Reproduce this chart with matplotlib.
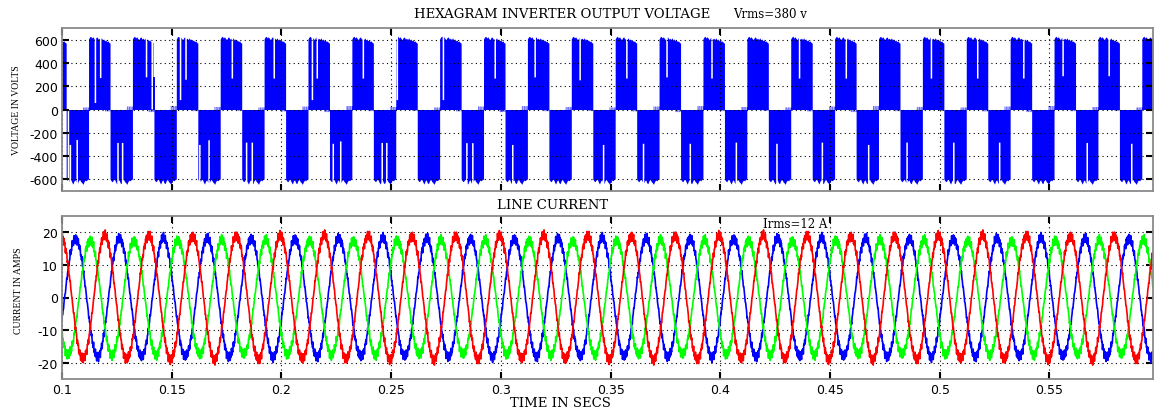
import numpy as np
import matplotlib
matplotlib.use("Agg")
import matplotlib.pyplot as plt

# ---------------- data ----------------
x_range = [0.1, 0.5972]
x_ticks = [0.1, 0.15, 0.2, 0.25, 0.3, 0.35, 0.4, 0.45, 0.5, 0.55]
x_tick_labels = ["0.1", "0.15", "0.2", "0.25", "0.3", "0.35", "0.4", "0.45", "0.5", "0.55"]
v_ticks = [600, 400, 200, 0, -200, -400, -600]
i_ticks = [20, 10, 0, -10, -20]

# voltage: start times of the positive half-cycle blocks (s)
pos_block_starts = [0.0921, 0.1121, 0.1321, 0.1521, 0.1721, 0.1921, 0.2121, 0.2321,
                    0.2521, 0.2721, 0.2921, 0.3121, 0.3321, 0.3521, 0.3721, 0.3921,
                    0.4121, 0.4321, 0.4521, 0.4721, 0.4921, 0.5121, 0.5321, 0.5521,
                    0.5721, 0.5921]
pos_block_width = 0.0098
cycle_length = 0.02
# ragged envelope of a positive / negative block (fraction of block -> volts)
env_frac = list(np.linspace(0, 1, 21))
env_pos = [606, 623, 629, 614, 625, 609, 600, 619, 623, 604, 613, 600,
           616, 597, 606, 590, 598, 583, 589, 575, 570]
env_neg = [-598, -613, -621, -604, -600, -623, -641, -614, -604, -630, -637,
           -611, -600, -619, -629, -643, -619, -606, -613, -600, -598]
# small opposite-polarity ripple near the end of each block (V)
end_ripple = [8, 22, 12, 30, 18, 34, 10, 26]
# notches (time, level) where the switching does not reach the envelope
notch_times = [0.1027, 0.1036, 0.1067, 0.1150, 0.1174, 0.1253, 0.1274, 0.1383, 0.1409,
               0.1418, 0.1538, 0.1563, 0.1626, 0.1668, 0.1774, 0.1839, 0.1865, 0.1965,
               0.2139, 0.2161, 0.2234, 0.2268, 0.2371, 0.2457, 0.2478, 0.2526, 0.2736,
               0.2843, 0.2870, 0.2972, 0.3052, 0.3154, 0.3359, 0.3466, 0.3572, 0.3648,
               0.3755, 0.3861, 0.3960, 0.4071, 0.4256, 0.4359, 0.4463, 0.4572, 0.4674,
               0.4849, 0.4960, 0.5062, 0.5171, 0.5271, 0.5381, 0.5560, 0.5670, 0.5770,
               0.5873]
notch_levels = [-5, -300, -257, 60, 275, -283, -283, 281, 5,
                283, 85, 260, -300, -260, 270, -280, -280, 270,
                85, 270, -290, -270, 270, -283, -283, 85, 85,
                -285, -285, 270, -300, 280, 255, -300, 270, -290,
                280, -290, 270, -280, -290, 270, -280, 270, -300,
                -280, 270, -280, 270, -280, 270, 290, -283, 290,
                -290]
notch_width = 0.0007

# currents: colour, first positive peak time (s), peak amplitude (A)
phase_colors = ["#0000ff", "#00ff00", "#ff0000"]
phase_peak_time = [0.1062, 0.1128, 0.1195]
phase_amplitude = [18.2, 17.6, 19.0]
ripple_amp = 1.5
ripple_freqs = [2450.0, 1130.0]

# ---------------- build waveforms ----------------
t = np.arange(x_range[0], x_range[1], 4e-6)
hi = np.zeros_like(t)
lo = np.zeros_like(t)
nrip = len(end_ripple)
for k, s in enumerate(pos_block_starts):
    m = (t >= s) & (t < s + pos_block_width)
    hi[m] = np.interp((t[m] - s) / pos_block_width, env_frac, env_pos)
    m2 = (t >= s + 0.72 * pos_block_width) & (t < s + pos_block_width)
    lo[m2] = -end_ripple[(2 * k) % nrip]
    ns = s + pos_block_width
    nw = cycle_length - pos_block_width
    m = (t >= ns) & (t < ns + nw)
    lo[m] = np.interp((t[m] - ns) / nw, env_frac, env_neg)
    m2 = (t >= ns + 0.72 * nw) & (t < ns + nw)
    hi[m2] = end_ripple[(2 * k + 1) % nrip]
# make the near-zero ripple spiky rather than a flat ledge
spike = (np.sin(2 * np.pi * 3100 * t) > 0.2)
hi = np.where((hi > 0) & (hi < 100) & ~spike, 0, hi)
lo = np.where((lo < 0) & (lo > -100) & ~spike, 0, lo)
for tn, lv in zip(notch_times, notch_levels):
    m = np.abs(t - tn) < notch_width / 2
    if lv > 0:
        hi[m] = lv
    else:
        lo[m] = lv

ti = np.arange(x_range[0], x_range[1], 2e-5)
tri = sum((2 / np.pi) * np.arcsin(np.sin(2 * np.pi * f * ti)) for f in ripple_freqs) / 1.6

# ---------------- figure ----------------
W, H = 1154, 414
fig = plt.figure(figsize=(W / 100, H / 100), dpi=100)
ax1 = fig.add_axes([62 / W, 1 - 192 / H, 1091 / W, 163 / H])
ax2 = fig.add_axes([62 / W, 1 - 380 / H, 1091 / W, 163 / H])

ax1.fill_between(t, lo, hi, color="#0000ff", linewidth=0)

for col, tp, amp in zip(phase_colors, phase_peak_time, phase_amplitude):
    c = np.cos(2 * np.pi * 50.0 * (ti - tp))
    y = amp * c + ripple_amp * tri * (0.3 + 0.7 * np.abs(c))
    ax2.plot(ti, y, color=col, linewidth=1.2)

for ax, yt, yl in [(ax1, v_ticks, (-700, 700)), (ax2, i_ticks, (-25, 25))]:
    ax.set_xlim(*x_range)
    ax.set_ylim(*yl)
    ax.set_yticks(yt)
    ax.set_yticklabels([str(v) for v in yt])
    ax.set_xticks(x_ticks)
    ax.grid(True, color="k", linestyle=(0, (1, 3)), linewidth=0.8)
    ax.tick_params(direction="in", length=5, width=1.5, color="k",
                   top=True, right=True, labelsize=9, pad=3)
    for sp in ax.spines.values():
        sp.set_color("#8a8a8a")
        sp.set_linewidth(1.3)

ax1.set_xticklabels([])
ax2.set_xticklabels(x_tick_labels)

serif = "DejaVu Serif"
fig.text(562 / W, 1 - 14 / H, "HEXAGRAM INVERTER OUTPUT VOLTAGE", ha="center", va="center",
         family=serif, size=9.5)
fig.text(733 / W, 1 - 14 / H, "Vrms=380 v", ha="left", va="center", family=serif, size=8.5)
fig.text(553 / W, 1 - 205.5 / H, "LINE CURRENT", ha="center", va="center", family=serif, size=9.5)
fig.text(560 / W, 1 - 403.5 / H, "TIME IN SECS", ha="center", va="center", family=serif, size=9.5)
fig.text(763 / W, 1 - 225 / H, "Irms=12 A", ha="left", va="center", family=serif, size=8.5)
fig.text(17 / W, 1 - 110 / H, "VOLTAGE IN VOLTS", rotation=90, ha="center", va="center",
         family="Liberation Serif", size=7)
fig.text(19 / W, 1 - 291 / H, "CURRENT IN AMPS", rotation=90, ha="center", va="center",
         family="Liberation Serif", size=7)

fig.savefig("out.png", dpi=100, facecolor="white")
